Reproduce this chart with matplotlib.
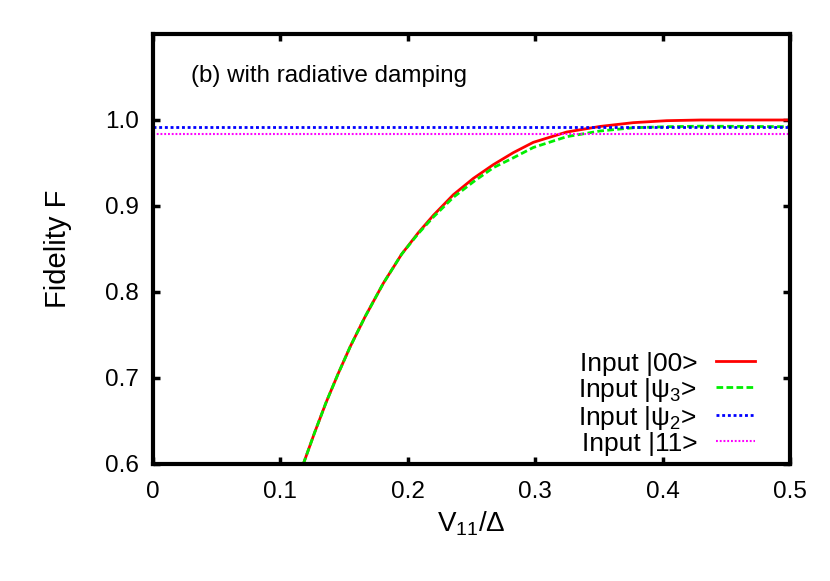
#!/usr/bin/env python3
"""Fidelity vs V11/Delta, panel (b) with radiative damping (gnuplot look)."""
import matplotlib
matplotlib.use("Agg")
import matplotlib.pyplot as plt
from matplotlib import rcParams

# curves
x_00 = [0.118, 0.127, 0.136, 0.1455, 0.155, 0.1664, 0.1808, 0.1952, 0.2083,
        0.220, 0.2357, 0.2514, 0.2671, 0.2828, 0.2985, 0.3247, 0.3509, 0.377,
        0.4032, 0.430, 0.460, 0.500]
F_00 = [0.600, 0.637, 0.672, 0.7055, 0.737, 0.771, 0.8101, 0.844, 0.869,
        0.889, 0.913, 0.932, 0.948, 0.962, 0.974, 0.986, 0.9925, 0.9969,
        0.9992, 1.000, 1.000, 1.000]
x_psi3 = [0.118, 0.127, 0.136, 0.1455, 0.155, 0.1664, 0.1808, 0.1952, 0.2083,
          0.220, 0.2357, 0.2514, 0.2671, 0.2828, 0.2985, 0.3247, 0.3509, 0.377,
          0.4032, 0.430, 0.460, 0.500]
F_psi3 = [0.600, 0.637, 0.672, 0.7055, 0.737, 0.771, 0.8101, 0.844, 0.868,
          0.887, 0.910, 0.928, 0.9445, 0.956, 0.968, 0.9806, 0.9872, 0.991,
          0.9922, 0.9928, 0.9926, 0.9922]
x_flat = [0.0, 0.5]
F_psi2 = [0.9922, 0.9922]
F_11 = [0.9835, 0.9835]

xticks = [0, 0.1, 0.2, 0.3, 0.4, 0.5]
xticklabels = ["0", "0.1", "0.2", "0.3", "0.4", "0.5"]
yticks = [0.6, 0.7, 0.8, 0.9, 1.0]
yticklabels = ["0.6", "0.7", "0.8", "0.9", "1.0"]

rcParams["font.family"] = ["Liberation Sans", "DejaVu Sans"]
rcParams["mathtext.fontset"] = "custom"
rcParams["mathtext.rm"] = "Liberation Sans"
rcParams["mathtext.it"] = "Liberation Sans:italic"

fig = plt.figure(figsize=(8.3, 5.81), dpi=100)
ax = fig.add_axes([0.1843, 0.2014, 0.7675, 0.7401])

ax.plot(x_00, F_00, color="#ff0000", lw=2.0, label=r"Input |00>")
ax.plot(x_psi3, F_psi3, color="#00ee00", lw=2.0, dashes=(2.4, 1.2),
        label=r"Input |$\mathrm{ψ_3}$>")
ax.plot(x_flat, F_psi2, color="#0000ff", lw=2.0, dashes=(1.05, 1.0),
        label=r"Input |$\mathrm{ψ_2}$>")
ax.plot(x_flat, F_11, color="#ff00ff", lw=1.5, dashes=(0.9, 0.9),
        label=r"Input |11>")

ax.set_xlim(0, 0.5)
ax.set_ylim(0.6, 1.1)
ax.set_xticks(xticks)
ax.set_xticklabels(xticklabels)
ax.set_yticks(yticks)
ax.set_yticklabels(yticklabels)
ax.tick_params(direction="in", length=5, width=2.5, labelsize=17.5,
               top=True, right=True)
ax.tick_params(axis="x", pad=12)
ax.tick_params(axis="y", pad=10)
for sp in ax.spines.values():
    sp.set_linewidth(3)

ax.set_xlabel(r"$\mathrm{V_{11}/\Delta}$", fontsize=20, labelpad=5)
ax.set_ylabel("Fidelity F", fontsize=21, labelpad=24)
ax.text(0.03, 1.051, "(b) with radiative damping", fontsize=17.4, va="center")

ax.legend(loc="lower right", markerfirst=False, frameon=False, fontsize=19,
          handlelength=1.5, handletextpad=0.7, labelspacing=0.0,
          borderaxespad=0.0, bbox_to_anchor=(0.962, -0.005))

fig.savefig("out.png", dpi=100)
plt.close(fig)
